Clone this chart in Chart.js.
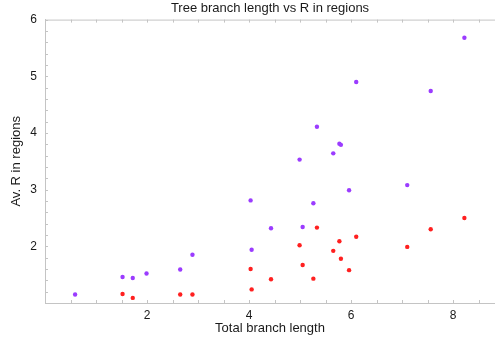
<!DOCTYPE html>
<html>
<head>
<meta charset="utf-8">
<script src="https://cdn.jsdelivr.net/npm/chart.js@4"></script>
<style>
  html, body { margin: 0; padding: 0; background: #fff; }
  #wrap { width: 495px; height: 343px; }
</style>
</head>
<body>
<div id="wrap"><canvas id="scatter"></canvas></div>
<script>
// Values
const branchLength = [0.59, 1.52, 1.72, 1.99, 2.65, 2.89, 4.03, 4.05, 4.43, 4.99, 5.05,
                      5.26, 5.33, 5.65, 5.77, 5.80, 5.96, 6.10, 7.10, 7.56, 8.22];
const rPurple = [1.15, 1.46, 1.44, 1.52, 1.59, 1.85, 2.81, 1.94, 2.32, 3.53, 2.34,
                 2.76, 4.11, 3.64, 3.81, 3.79, 2.99, 4.90, 3.08, 4.74, 5.68];
const rRed = [null, 1.16, 1.09, null, 1.15, 1.15, 1.60, 1.24, 1.42, 2.02, 1.67,
              1.43, 2.33, 1.92, 2.09, 1.78, 1.58, 2.17, 1.99, 2.30, 2.50];
const xTickLabels = [2, 4, 6, 8];
const yTickLabels = [2, 3, 4, 5, 6];

const FRAME = '#c4c4c4';
const TXT = '#1a1a1a';
const FONT = "'Liberation Sans', Arial, sans-serif";

function toPoints(xs, ys) {
    const pts = [];
    for (let i = 0; i < xs.length; i++) {
        if (ys[i] !== null) pts.push({ x: xs[i], y: ys[i] });
    }
    return pts;
}

function near(v, list) {
    return list.some(t => Math.abs(v - t) < 1e-6);
}

// Mathematica-like frame: top line plus small inward tick marks
const frameTicks = {
    id: 'frameTicks',
    afterDatasetsDraw(chart) {
        const { ctx, chartArea: a, scales } = chart;
        ctx.save();
        ctx.strokeStyle = FRAME;
        ctx.lineWidth = 1;
        ctx.beginPath();
        ctx.moveTo(a.left, a.top + 0.5);
        ctx.lineTo(a.right, a.top + 0.5);
        scales.x.ticks.forEach(t => {
            if (Math.abs(t.value * 2 - Math.round(t.value * 2)) > 1e-6 || t.value <= 0) return;
            const px = Math.round(scales.x.getPixelForValue(t.value)) + 0.5;
            ctx.moveTo(px, a.bottom);
            ctx.lineTo(px, a.bottom - 3);
            ctx.moveTo(px, a.top);
            ctx.lineTo(px, a.top + 3);
        });
        scales.y.ticks.forEach(t => {
            if (t.value <= 1) return;
            const py = Math.round(scales.y.getPixelForValue(t.value)) + 0.5;
            ctx.moveTo(a.left, py);
            ctx.lineTo(a.left + 3, py);
        });
        ctx.stroke();
        ctx.restore();
    }
};

const ctx = document.getElementById('scatter').getContext('2d');
new Chart(ctx, {
    type: 'scatter',
    data: {
        datasets: [
            {
                label: 'upper',
                data: toPoints(branchLength, rPurple),
                backgroundColor: '#9b3cff',
                borderWidth: 0,
                pointRadius: 2.2,
            },
            {
                label: 'lower',
                data: toPoints(branchLength, rRed),
                backgroundColor: '#ff2020',
                borderWidth: 0,
                pointRadius: 2.2,
            },
        ],
    },
    options: {
        responsive: true,
        maintainAspectRatio: false,
        animation: false,
        layout: { autoPadding: false, padding: 0 },
        plugins: {
            legend: { display: false },
            tooltip: { enabled: false },
            title: {
                display: true,
                fullSize: false,
                text: 'Tree branch length vs R in regions',
                color: TXT,
                font: { family: FONT, size: 13, weight: 'normal' },
                padding: { top: 1, bottom: 3 },
            },
        },
        scales: {
            x: {
                type: 'linear',
                min: 0,
                max: 8.82,
                grid: { display: false, drawTicks: false },
                border: { display: true, color: FRAME },
                ticks: {
                    stepSize: 0.5,
                    includeBounds: false,
                    autoSkip: false,
                    maxRotation: 0,
                    padding: 5,
                    color: TXT,
                    font: { family: FONT, size: 12 },
                    callback: v => near(v, xTickLabels) ? String(v) : '',
                },
                title: {
                    display: true,
                    text: 'Total branch length',
                    color: TXT,
                    font: { family: FONT, size: 13 },
                    padding: { top: 0, bottom: 7 },
                },
                afterFit: scale => { scale.height = 40; },
            },
            y: {
                type: 'linear',
                min: 1,
                max: 6,
                grid: { display: false, drawTicks: false },
                border: { display: true, color: FRAME },
                ticks: {
                    stepSize: 0.2,
                    autoSkip: false,
                    padding: 8,
                    color: TXT,
                    font: { family: FONT, size: 12 },
                    callback: v => near(v, yTickLabels) ? String(Math.round(v)) : '',
                },
                title: {
                    display: true,
                    text: 'Av. R in regions',
                    color: TXT,
                    font: { family: FONT, size: 13 },
                    padding: { top: 9, bottom: 0 },
                },
                afterFit: scale => { scale.width = 45; },
            },
        },
    },
    plugins: [frameTicks],
});
</script>
</body>
</html>
